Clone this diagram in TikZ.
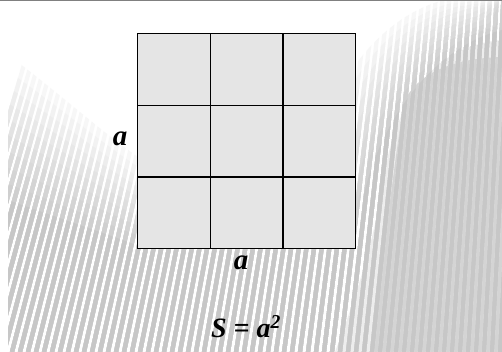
\documentclass[tikz,border=0pt]{standalone}
\usepackage{fontspec}
\setmainfont{Liberation Serif}
\begin{document}
\begin{tikzpicture}[x=1pt,y=-1pt,
  cell/.style={draw=black,line width=1.2pt,fill=black!10,inner sep=0pt,
    minimum width=72.67pt,minimum height=71.67pt,anchor=north west},
  lbl/.style={font=\fontsize{29}{31}\selectfont\bfseries\itshape,inner sep=0pt},
  formula/.style={font=\fontsize{28}{30}\selectfont\bfseries\itshape,inner sep=0pt},
  stripe/.style={line width=4.2pt}]
\useasboundingbox (0,0) rectangle (502,352);
\fill[white] (0,0) rectangle (502,352);
% grey backgrounds on the right
\fill[black!7] (502,40) .. controls (440,45) and (400,90) .. (385,170)
  .. controls (375,240) and (355,300) .. (335,352) -- (502,352) -- cycle;
\fill[black!17] (502,57) .. controls (460,58) and (420,70) .. (405,100)
  .. controls (395,150) and (385,250) .. (370,352) -- (502,352) -- cycle;
% stripes, growing darker in steps
\foreach \i in {0,...,9} {
  \pgfmathsetmacro{\t}{\i/9}
  \pgfmathsetmacro{\shade}{int(3+19*\t)}
  \begin{scope}
    \clip (8,{55+145*\t}) .. controls (50,{85+130*\t}) and (110,{140+95*\t}) .. (150,{165+85*\t})
      -- ({340+10*\t},{165+85*\t})
      -- ({352+13*\t},{70+120*\t}) .. controls ({375+10*\t},{35+75*\t}) and ({410+30*\t},{8+37*\t}) .. ({445+57*\t},{30*\t})
      -- (502,0) -- (502,352) -- (8,352) -- cycle;
    \foreach \x in {-60,-52,...,600} {
      \draw[black!\shade,stripe] (\x,352) -- ({0.8464*\x+93.7},0);
    }
  \end{scope}
}
\draw[black!50,line width=1pt] (0,0.5) -- (502,0.5);
% grid
\foreach \r in {1,2,3} {
  \foreach \c in {1,2,3} {
    \node[cell] (c\r\c) at ({137+(\c-1)*72.67},{33+(\r-1)*71.67}) {};
  }
}
\node[lbl] (aleft) at (120,139) {a};
\node[lbl] (abot) at (241,263) {a};
\node[formula] (area) at (246,327) {S = a\textsuperscript{2}};
\end{tikzpicture}
\end{document}
